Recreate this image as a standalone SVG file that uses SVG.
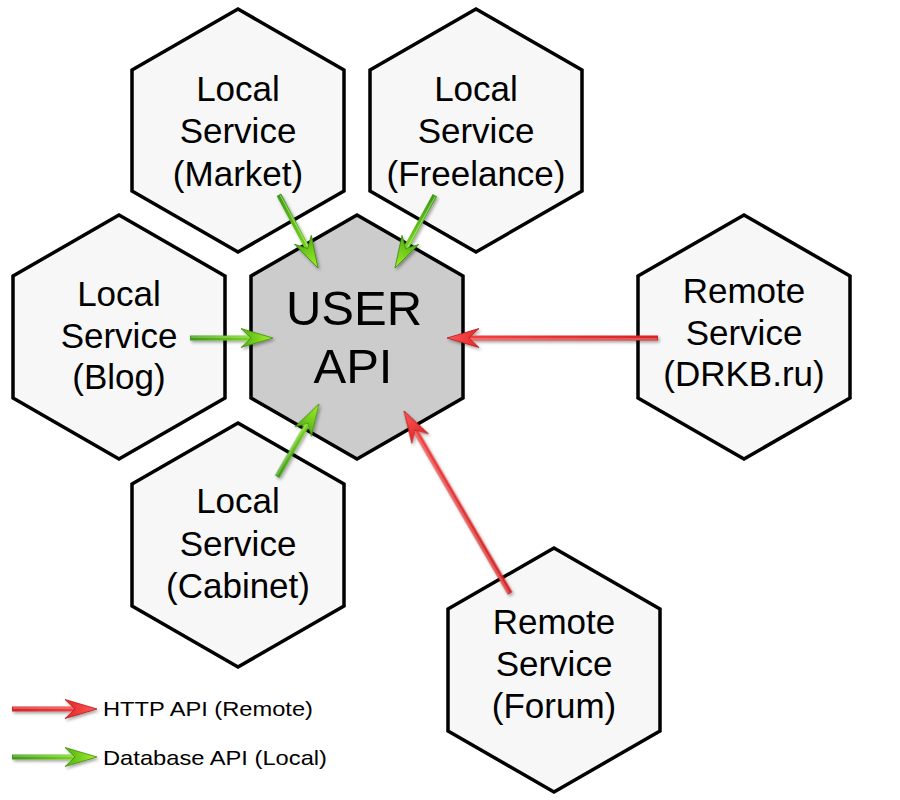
<svg xmlns="http://www.w3.org/2000/svg" width="900" height="800" viewBox="0 0 900 800">
<defs>
<style>
.hex{fill:#f7f7f7;stroke:#000;stroke-width:3.5;stroke-linejoin:miter}
.hexc{fill:#cccccc;stroke:#000;stroke-width:3.5}
.lbl{font-family:"Liberation Sans",Arial,sans-serif;font-size:35px;fill:#000;text-anchor:middle}
.big{font-family:"Liberation Sans",Arial,sans-serif;font-size:49px;fill:#000;text-anchor:middle}
.leg{font-family:"Liberation Sans",Arial,sans-serif;font-size:21px;fill:#000}
.gshaft{fill:url(#gGrad)}
.rshaft{fill:url(#rGrad)}
.ghead{fill:url(#gHead);stroke:#3d8e0c;stroke-width:0.8}
.rhead{fill:url(#rHead);stroke:#b81818;stroke-width:0.8}
.hl{stroke:#ffffff;stroke-opacity:0.45;stroke-width:1}
</style>
<linearGradient id="gGrad" x1="0" y1="0" x2="1" y2="0">
<stop offset="0" stop-color="#3f9a14"/><stop offset="1" stop-color="#7ad81c"/>
</linearGradient>
<linearGradient id="rGrad" x1="0" y1="0" x2="1" y2="0">
<stop offset="0" stop-color="#d62424"/><stop offset="1" stop-color="#f04040"/>
</linearGradient>
<linearGradient id="gHead" x1="0" y1="0" x2="1" y2="0">
<stop offset="0" stop-color="#4fb012"/><stop offset="1" stop-color="#a6f22a"/>
</linearGradient>
<linearGradient id="rHead" x1="0" y1="0" x2="1" y2="0">
<stop offset="0" stop-color="#e02828"/><stop offset="1" stop-color="#ff5a5a"/>
</linearGradient>
<filter id="sh" x="-30%" y="-60%" width="160%" height="220%">
<feDropShadow dx="1.5" dy="2" stdDeviation="1.5" flood-color="#000" flood-opacity="0.35"/>
</filter>
<path id="hd" d="M0,0 L-32,-9.5 L-22,0 L-32,9.5 Z"/>
</defs>
<rect width="900" height="800" fill="#ffffff"/>

<g id="node-market">
<polygon class="hex" points="238,9 344,70 344,191 238,252 132,191 132,70"/>
<text class="lbl" x="238" y="101">Local</text>
<text class="lbl" x="238" y="143">Service</text>
<text class="lbl" x="238" y="186">(Market)</text>
</g>
<g id="node-freelance">
<polygon class="hex" points="476,9 582,70 582,191 476,252 370,191 370,70"/>
<text class="lbl" x="476" y="101">Local</text>
<text class="lbl" x="476" y="143">Service</text>
<text class="lbl" x="476" y="186">(Freelance)</text>
</g>
<g id="node-blog">
<polygon class="hex" points="119,215 225,276 225,398 119,459 13,398 13,276"/>
<text class="lbl" x="119" y="306">Local</text>
<text class="lbl" x="119" y="348">Service</text>
<text class="lbl" x="119" y="389">(Blog)</text>
</g>
<g id="node-userapi">
<polygon class="hexc" points="357,215 463,276 463,398 357,459 251,398 251,276"/>
<text class="big" x="354" y="325">USER</text>
<text class="big" x="353" y="383">API</text>
</g>
<g id="node-drkb">
<polygon class="hex" points="744,215 850,276 850,398 744,459 638,398 638,276"/>
<text class="lbl" x="744" y="303">Remote</text>
<text class="lbl" x="744" y="345">Service</text>
<text class="lbl" x="744" y="386">(DRKB.ru)</text>
</g>
<g id="node-cabinet">
<polygon class="hex" points="238,423 344,484 344,606 238,667 132,606 132,484"/>
<text class="lbl" x="238" y="513">Local</text>
<text class="lbl" x="238" y="556">Service</text>
<text class="lbl" x="238" y="598">(Cabinet)</text>
</g>
<g id="node-forum">
<polygon class="hex" points="554,548 660,609 660,731 554,792 448,731 448,609"/>
<text class="lbl" x="554" y="634">Remote</text>
<text class="lbl" x="554" y="676">Service</text>
<text class="lbl" x="554" y="718">(Forum)</text>
</g>

<g id="connectors" filter="url(#sh)">
<g transform="translate(318,268) rotate(61.9)">
<rect class="gshaft" x="-83" y="-2.5" width="63" height="5"/>
<line class="hl" x1="-82" y1="-1" x2="-22" y2="-1"/>
<use href="#hd" class="ghead"/>
</g>
<g transform="translate(395,268) rotate(118.7)">
<rect class="gshaft" x="-83" y="-2.5" width="63" height="5"/>
<line class="hl" x1="-82" y1="-1" x2="-22" y2="-1"/>
<use href="#hd" class="ghead"/>
</g>
<g transform="translate(273,338)">
<rect class="gshaft" x="-83" y="-2.5" width="63" height="5"/>
<line class="hl" x1="-82" y1="-1" x2="-22" y2="-1"/>
<use href="#hd" class="ghead"/>
</g>
<g transform="translate(319,404) rotate(-60.1)">
<rect class="gshaft" x="-84" y="-2.5" width="64" height="5"/>
<line class="hl" x1="-83" y1="-1" x2="-22" y2="-1"/>
<use href="#hd" class="ghead"/>
</g>
<g transform="translate(447,338) rotate(180)">
<rect class="rshaft" x="-211" y="-2.5" width="191" height="5"/>
<line class="hl" x1="-210" y1="-1" x2="-22" y2="-1"/>
<use href="#hd" class="rhead"/>
</g>
<g transform="translate(404,411) rotate(-120.2)">
<rect class="rshaft" x="-211" y="-2.5" width="191" height="5"/>
<line class="hl" x1="-210" y1="-1" x2="-22" y2="-1"/>
<use href="#hd" class="rhead"/>
</g>
</g>

<g id="legend">
<g filter="url(#sh)">
<g transform="translate(97,709)">
<rect class="rshaft" x="-85" y="-2.5" width="65" height="5"/>
<line class="hl" x1="-84" y1="-1" x2="-22" y2="-1"/>
<use href="#hd" class="rhead"/>
</g>
<g transform="translate(97,757)">
<rect class="gshaft" x="-85" y="-2.5" width="65" height="5"/>
<line class="hl" x1="-84" y1="-1" x2="-22" y2="-1"/>
<use href="#hd" class="ghead"/>
</g>
</g>
<text class="leg" x="103" y="716" textLength="210" lengthAdjust="spacingAndGlyphs">HTTP API (Remote)</text>
<text class="leg" x="103" y="765" textLength="224" lengthAdjust="spacingAndGlyphs">Database API (Local)</text>
</g>
</svg>
